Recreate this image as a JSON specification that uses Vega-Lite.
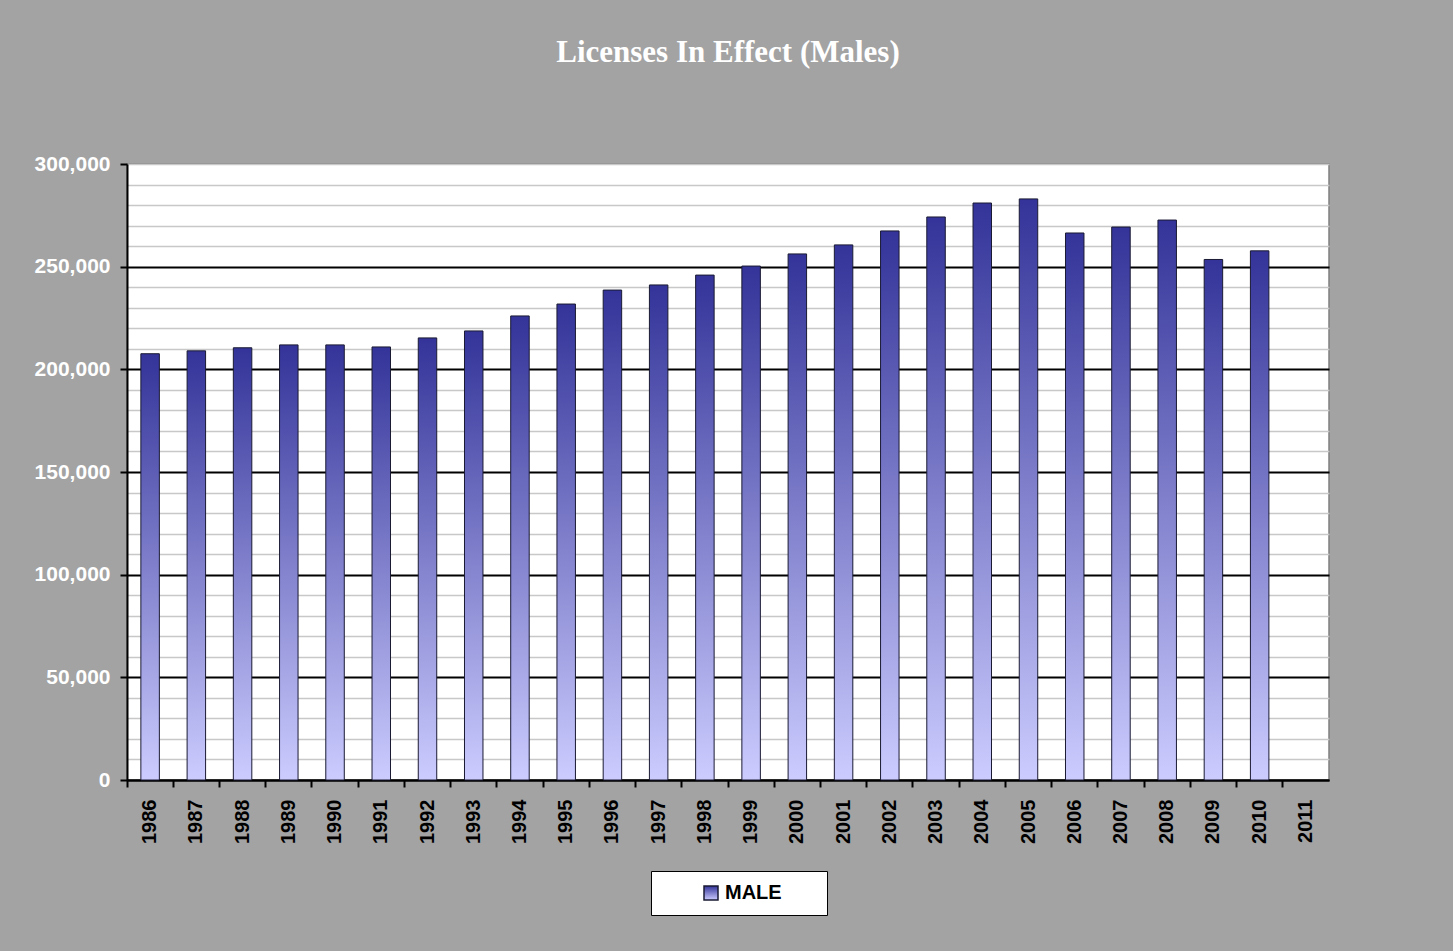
{
  "$schema": "https://vega.github.io/schema/vega-lite/v6.json",
  "width": 1202,
  "height": 616,
  "autosize": {"type": "pad"},
  "padding": {"left": 34, "top": 37, "right": 124, "bottom": 35},
  "background": "#a3a3a3",
  "title": {
    "text": "Licenses In Effect (Males)",
    "font": "Liberation Serif",
    "fontSize": 31,
    "fontWeight": "bold",
    "color": "#ffffff",
    "anchor": "middle",
    "offset": 84
  },
  "data": {
    "values": [
      {"year": "1986", "licenses": 207600, "series": "MALE"},
      {"year": "1987", "licenses": 209000, "series": "MALE"},
      {"year": "1988", "licenses": 210500, "series": "MALE"},
      {"year": "1989", "licenses": 211900, "series": "MALE"},
      {"year": "1990", "licenses": 211900, "series": "MALE"},
      {"year": "1991", "licenses": 210900, "series": "MALE"},
      {"year": "1992", "licenses": 215300, "series": "MALE"},
      {"year": "1993", "licenses": 218700, "series": "MALE"},
      {"year": "1994", "licenses": 226000, "series": "MALE"},
      {"year": "1995", "licenses": 231800, "series": "MALE"},
      {"year": "1996", "licenses": 238600, "series": "MALE"},
      {"year": "1997", "licenses": 241100, "series": "MALE"},
      {"year": "1998", "licenses": 245900, "series": "MALE"},
      {"year": "1999", "licenses": 250300, "series": "MALE"},
      {"year": "2000", "licenses": 256200, "series": "MALE"},
      {"year": "2001", "licenses": 260600, "series": "MALE"},
      {"year": "2002", "licenses": 267400, "series": "MALE"},
      {"year": "2003", "licenses": 274200, "series": "MALE"},
      {"year": "2004", "licenses": 281000, "series": "MALE"},
      {"year": "2005", "licenses": 283000, "series": "MALE"},
      {"year": "2006", "licenses": 266400, "series": "MALE"},
      {"year": "2007", "licenses": 269300, "series": "MALE"},
      {"year": "2008", "licenses": 272700, "series": "MALE"},
      {"year": "2009", "licenses": 253500, "series": "MALE"},
      {"year": "2010", "licenses": 257700, "series": "MALE"}
    ]
  },
  "mark": {
    "type": "bar",
    "width": {"band": 0.4},
    "strokeWidth": 1,
    "color": {
      "gradient": "linear",
      "x1": 0, "y1": 0, "x2": 0, "y2": 1,
      "stops": [
        {"offset": 0, "color": "#333399"},
        {"offset": 1, "color": "#ccccff"}
      ]
    }
  },
  "encoding": {
    "x": {
      "field": "year",
      "type": "ordinal",
      "title": null,
      "scale": {
        "domain": ["1986","1987","1988","1989","1990","1991","1992","1993","1994","1995","1996","1997","1998","1999","2000","2001","2002","2003","2004","2005","2006","2007","2008","2009","2010","2011"],
        "paddingInner": 0,
        "paddingOuter": 0
      },
      "axis": {
        "bandPosition": 0,
        "labelAngle": -90,
        "labelFont": "Liberation Sans",
        "labelFontSize": 20,
        "labelFontWeight": "bold",
        "labelColor": "#000000",
        "labelPadding": 12,
        "domainColor": "#000000",
        "domainWidth": 2,
        "tickColor": "#000000",
        "tickWidth": 2,
        "tickSize": 7,
        "grid": false
      }
    },
    "y": {
      "field": "licenses",
      "type": "quantitative",
      "title": null,
      "scale": {"domain": [0, 300000], "nice": false},
      "axis": {
        "values": [0,10000,20000,30000,40000,50000,60000,70000,80000,90000,100000,110000,120000,130000,140000,150000,160000,170000,180000,190000,200000,210000,220000,230000,240000,250000,260000,270000,280000,290000,300000],
        "labelExpr": "datum.value % 50000 === 0 ? format(datum.value, ',') : ''",
        "labelFont": "Liberation Sans",
        "labelFontSize": 21,
        "labelFontWeight": "bold",
        "labelColor": "#ffffff",
        "labelPadding": 10,
        "domainColor": "#000000",
        "domainWidth": 2,
        "tickColor": "#000000",
        "tickWidth": 2,
        "tickSize": 7,
        "tickOpacity": {"condition": {"test": "datum.value % 50000 === 0", "value": 1}, "value": 0},
        "grid": true,
        "gridColor": {"condition": {"test": "datum.value % 50000 === 0 && datum.value < 300000", "value": "#000000"}, "value": "#c8c8c8"},
        "gridWidth": {"condition": {"test": "datum.value % 50000 === 0 && datum.value < 300000", "value": 2}, "value": 1.5},
        "gridOpacity": 1
      }
    },
    "stroke": {
      "field": "series",
      "type": "nominal",
      "scale": {"range": ["#1a1a33"]},
      "legend": {
        "title": "\u00a0",
        "titleOrient": "right",
        "titlePadding": 33,
        "titleFontSize": 4,
        "orient": "none",
        "legendX": 524,
        "legendY": 707,
        "direction": "horizontal",
        "symbolType": "square",
        "symbolSize": 196,
        "symbolOffset": 38,
        "labelFont": "Liberation Sans",
        "labelFontSize": 20,
        "labelFontWeight": "bold",
        "labelColor": "#000000",
        "padding": 12,
        "fillColor": "#ffffff",
        "strokeColor": "#000000",
        "encode": {
          "legend": {
            "update": {
              "strokeWidth": {"value": 2}
            }
          },
          "symbols": {
            "update": {
              "fill": {"value": {
                "gradient": "linear",
                "x1": 0, "y1": 0, "x2": 0, "y2": 1,
                "stops": [
                  {"offset": 0, "color": "#333399"},
                  {"offset": 1, "color": "#ccccff"}
                ]
              }},
              "stroke": {"value": "#222244"},
              "opacity": {"value": 1}
            }
          }
        }
      }
    }
  },
  "config": {
    "view": {"stroke": "#808080", "strokeWidth": 1.5, "fill": "#ffffff"}
  }
}
